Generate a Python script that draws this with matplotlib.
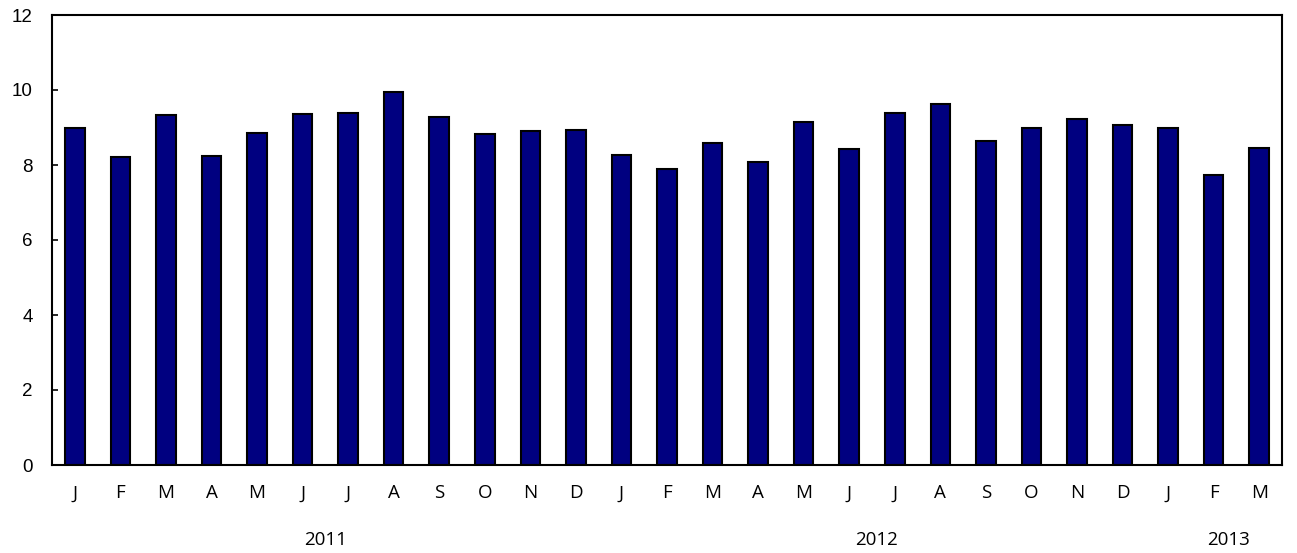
import matplotlib
matplotlib.use("Agg")
import matplotlib.pyplot as plt
import numpy as np

months = ["J", "F", "M", "A", "M", "J", "J", "A", "S", "O", "N", "D",
          "J", "F", "M", "A", "M", "J", "J", "A", "S", "O", "N", "D",
          "J", "F", "M"]
values = [9.00, 8.22, 9.34, 8.25, 8.86, 9.37, 9.39, 9.95, 9.29, 8.83, 8.90, 8.94,
          8.27, 7.90, 8.59, 8.08, 9.15, 8.42, 9.39, 9.64, 8.64, 9.00, 9.22, 9.08,
          8.99, 7.73, 8.45]
years = ["2011", "2012", "2013"]
year_pos = [5.5, 17.6, 25.33]
yticks = [0, 2, 4, 6, 8, 10, 12]

plt.rcParams['font.family'] = ['DejaVu Sans']
fig = plt.figure(figsize=(12.97, 5.53), dpi=100)
ax = fig.add_axes([52/1297, 1 - 465/553, 1230/1297, 450/553])

x = np.arange(len(values))
ax.bar(x, values, width=0.43, color="#000080", edgecolor="black", linewidth=1.5)

ax.set_xlim(-0.5, len(values) - 0.5)
ax.set_ylim(0, 12)
ax.set_yticks(yticks)
ax.set_yticklabels([str(t) for t in yticks], fontsize=13.5, family=['Liberation Sans'])
ax.set_xticks(x)
ax.set_xticklabels(months, fontsize=13.5, family=['Open Sans'])
ax.tick_params(axis='y', direction='in', length=4, width=1.2, pad=14)
ax.tick_params(axis='x', length=0, pad=14)
for s in ax.spines.values():
    s.set_linewidth(1.5)

for yr, p in zip(years, year_pos):
    ax.text(p, -1.99, yr, ha='center', va='center', fontsize=13.5,
            family=['Open Sans'], transform=ax.transData)

fig.savefig("out.png", dpi=100)
